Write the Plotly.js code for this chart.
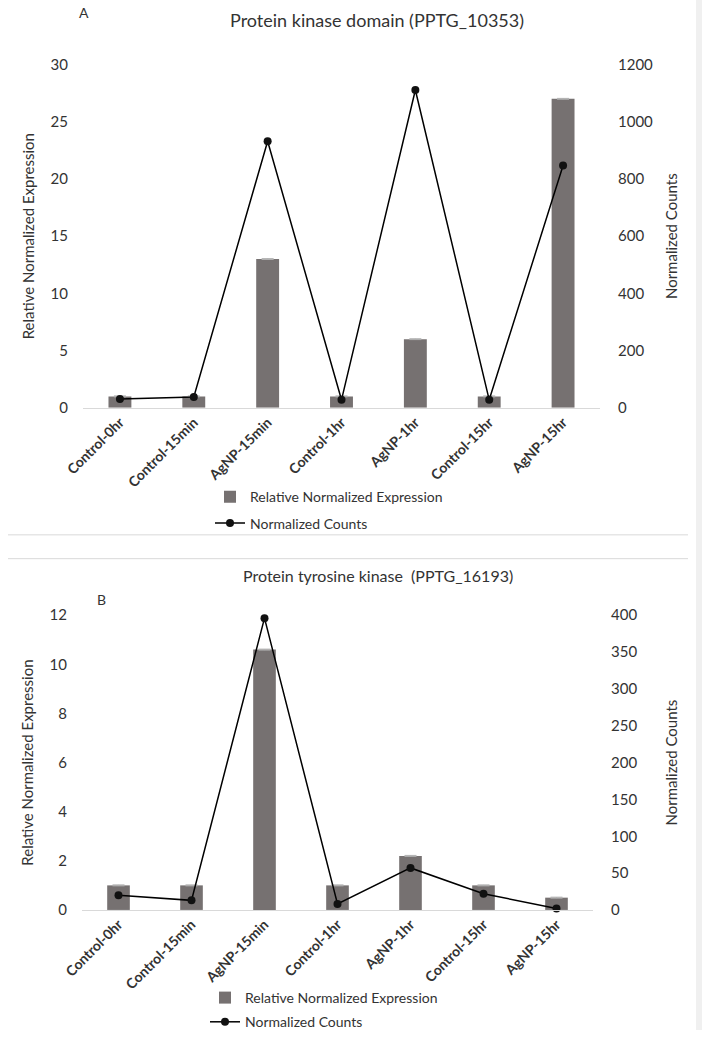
<!DOCTYPE html>
<html>
<head>
<meta charset="utf-8">
<script src="https://cdn.plot.ly/plotly-3.0.1.min.js"></script>
<style>html,body{margin:0;padding:0;background:#fff;}#chart{width:702px;height:1038px;}</style>
</head>
<body>
<div id="chart"></div>
<script>
var categories = ["Control-0hr","Control-15min","AgNP-15min","Control-1hr","AgNP-1hr","Control-15hr","AgNP-15hr"];

var titleA = "Protein kinase domain (PPTG_10353)";
var relExprA = [1, 1, 13, 1, 6, 1, 27];
var countsA = [31, 38, 932, 28, 1111, 28, 847];

var titleB = "Protein tyrosine kinase  (PPTG_16193)";
var relExprB = [1, 1, 10.6, 1, 2.2, 1, 0.5];
var countsB = [20, 13, 396, 8, 57, 22, 2];

var barName = "Relative Normalized Expression";
var lineName = "Normalized Counts";
var leftTitle = "Relative Normalized Expression";
var rightTitle = "Normalized Counts";

var W = 702, H = 1038;
function px(x){return x/W;}
function py(y){return 1 - y/H;}

var FONT = "Lato, Open Sans, sans-serif";
var TXT = "#333333";
var BAR = "#767171";

var traces = [
  {type:"bar", x:categories, y:relExprA, name:barName, xaxis:"x", yaxis:"y",
   marker:{color:BAR}, legend:"legend", legendgroup:"a1",
   error_y:{type:"constant", value:0.04, color:"#b0b0b0", thickness:1, width:6}},
  {type:"scatter", mode:"lines+markers", x:categories, y:countsA, name:lineName, xaxis:"x", yaxis:"y2",
   line:{color:"#000", width:1.5}, marker:{color:"#111", size:8}, legend:"legend", legendgroup:"a2",
   cliponaxis:false},
  {type:"bar", x:categories, y:relExprB, name:barName, xaxis:"x2", yaxis:"y3",
   marker:{color:BAR}, legend:"legend2", legendgroup:"b1",
   error_y:{type:"constant", value:0.02, color:"#b0b0b0", thickness:1, width:6}},
  {type:"scatter", mode:"lines+markers", x:categories, y:countsB, name:lineName, xaxis:"x2", yaxis:"y4",
   line:{color:"#000", width:1.5}, marker:{color:"#111", size:8}, legend:"legend2", legendgroup:"b2",
   cliponaxis:false}
];

var tickFont = {family:FONT, size:15, color:TXT};
var xTickFont = {family:FONT, size:14, color:TXT, weight:"bold"};
var axTitleFont = {family:FONT, size:15, color:TXT};

var layout = {
  width:W, height:H,
  margin:{l:0, r:0, t:0, b:0},
  paper_bgcolor:"#fff", plot_bgcolor:"#fff",
  showlegend:true,
  bargap:0.69,
  font:{family:FONT, color:TXT},
  xaxis:{domain:[px(83), px(600)], anchor:"y", tickangle:-45, tickfont:xTickFont,
         showline:true, linecolor:"#d9d9d9", linewidth:1, showgrid:false, zeroline:false, ticks:""},
  yaxis:{domain:[py(411), py(65)], anchor:"x", range:[0,30], dtick:5, tickfont:tickFont,
         showgrid:false, zeroline:false, showline:false, ticklabelstandoff:14,
         title:{text:leftTitle, font:axTitleFont, standoff:12}},
  yaxis2:{domain:[py(411), py(65)], anchor:"x", overlaying:"y", side:"right", range:[0,1200], dtick:200,
          tickfont:tickFont, showgrid:false, zeroline:false, showline:false, ticklabelstandoff:17,
          title:{text:rightTitle, font:axTitleFont, standoff:14}},
  xaxis2:{domain:[px(82), px(593)], anchor:"y3", tickangle:-45, tickfont:xTickFont,
          showline:true, linecolor:"#d9d9d9", linewidth:1, showgrid:false, zeroline:false, ticks:""},
  yaxis3:{domain:[py(917), py(620)], anchor:"x2", range:[0,12], dtick:2, tickfont:tickFont,
          showgrid:false, zeroline:false, showline:false, ticklabelstandoff:14,
          title:{text:leftTitle, font:axTitleFont, standoff:12}},
  yaxis4:{domain:[py(917), py(620)], anchor:"x2", overlaying:"y3", side:"right", range:[0,400], dtick:50,
          tickfont:tickFont, showgrid:false, zeroline:false, showline:false, ticklabelstandoff:17,
          title:{text:rightTitle, font:axTitleFont, standoff:30}},
  legend:{x:px(210), y:py(485), xanchor:"left", yanchor:"top", orientation:"v",
          traceorder:"grouped", tracegroupgap:5, font:{family:FONT, size:14, color:TXT},
          bgcolor:"rgba(0,0,0,0)", itemwidth:30},
  legend2:{x:px(205), y:py(990), xanchor:"left", yanchor:"top", orientation:"v",
          traceorder:"grouped", tracegroupgap:3, font:{family:FONT, size:14, color:TXT},
          bgcolor:"rgba(0,0,0,0)", itemwidth:30},
  annotations:[
    {text:titleA, xref:"paper", yref:"paper", x:px(377), y:py(20), showarrow:false,
     xanchor:"center", yanchor:"middle", font:{family:FONT, size:18, color:TXT}},
    {text:"A", xref:"paper", yref:"paper", x:px(84), y:py(13), showarrow:false,
     xanchor:"center", yanchor:"middle", font:{family:FONT, size:14, color:TXT}},
    {text:titleB, xref:"paper", yref:"paper", x:px(378), y:py(580), showarrow:false,
     xanchor:"center", yanchor:"middle", font:{family:FONT, size:16, color:TXT}},
    {text:"B", xref:"paper", yref:"paper", x:px(101), y:py(604), showarrow:false,
     xanchor:"center", yanchor:"middle", font:{family:FONT, size:14, color:TXT}}
  ],
  shapes:[
    {type:"line", xref:"paper", yref:"paper", x0:px(8), x1:px(688), y0:py(539), y1:py(539),
     line:{color:"#d9d9d9", width:1}},
    {type:"line", xref:"paper", yref:"paper", x0:px(8), x1:px(688), y0:py(563), y1:py(563),
     line:{color:"#d9d9d9", width:1}},
    {type:"rect", xref:"paper", yref:"paper", x0:px(696), x1:1, y0:0, y1:1,
     fillcolor:"#f0f0f0", line:{width:0}}
  ]
};

Plotly.newPlot("chart", traces, layout, {displayModeBar:false, staticPlot:true});
</script>
</body>
</html>
